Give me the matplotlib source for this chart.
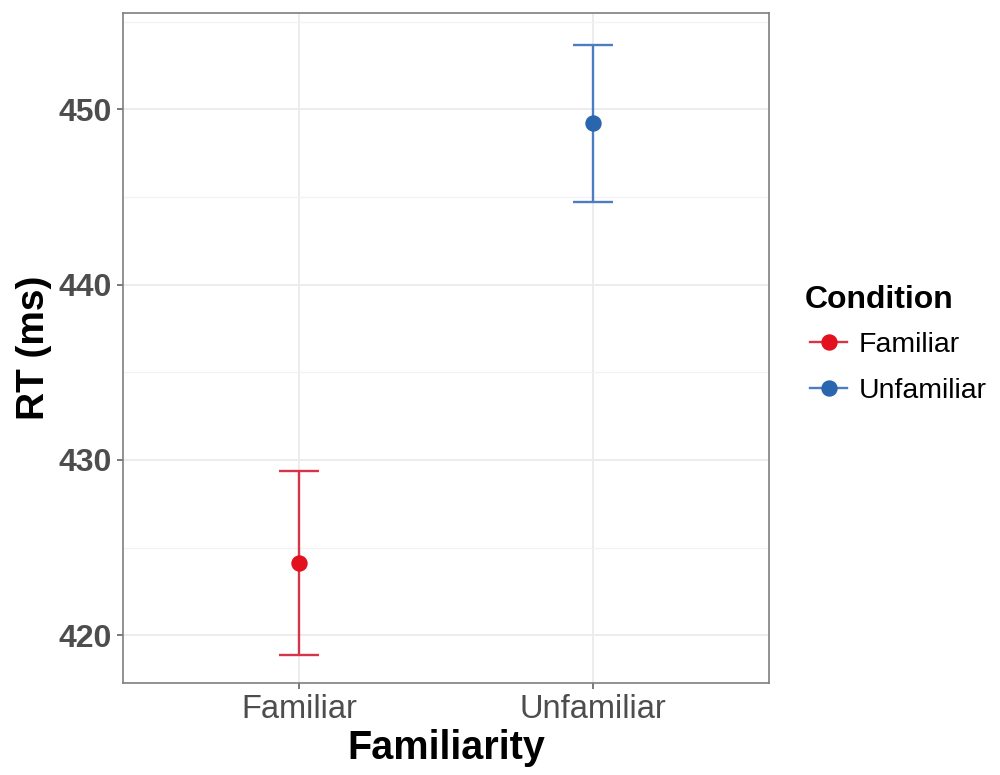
import matplotlib.pyplot as plt
from matplotlib.lines import Line2D

plt.rcParams['font.family'] = ['Liberation Sans', 'DejaVu Sans']

conditions = ['Familiar', 'Unfamiliar']
rt_mean = [424.1, 449.25]
rt_lower = [418.85, 444.7]
rt_upper = [429.35, 453.7]
colors = ['#E3101E', '#2A66AE']
line_colors = ['#D8334A', '#4A7EC0']

###############################################################################
fig = plt.figure(figsize=(10, 7.75), dpi=100)
ax = fig.add_axes([0.123, 0.1187, 0.646, 0.8645])

for i, cond in enumerate(conditions):
    ax.errorbar(i + 1, rt_mean[i],
                yerr=[[rt_mean[i] - rt_lower[i]], [rt_upper[i] - rt_mean[i]]],
                fmt='none', ecolor=line_colors[i], elinewidth=1.7,
                capsize=14.5, capthick=1.7, zorder=3)
    ax.plot(i + 1, rt_mean[i], 'o', color=colors[i], markersize=10.8, zorder=4)

ax.set_xlim(0.4, 2.6)
ax.set_ylim(417.27, 455.5)
ax.set_xticks([1, 2])
ax.set_xticklabels(conditions)
ax.set_yticks([420, 430, 440, 450])
ax.set_yticks([425, 435, 445, 455], minor=True)

ax.grid(True, which='major', color='#EBEBEB', linewidth=1.3, zorder=0)
ax.grid(True, which='minor', axis='y', color='#F2F2F2', linewidth=0.9, zorder=0)
ax.set_axisbelow(True)

for s in ax.spines.values():
    s.set_color('#7F7F7F')
    s.set_linewidth(1.2)

ax.tick_params(axis='both', which='major', length=4, width=1.1, color='#555555')
ax.tick_params(axis='y', which='minor', length=0)
ax.tick_params(axis='x', labelsize=23.5, labelcolor='#4D4D4D', pad=4)
ax.tick_params(axis='y', labelsize=23, labelcolor='#4D4D4D', pad=4)
for lbl in ax.get_yticklabels():
    lbl.set_fontweight('bold')

ax.set_xlabel('Familiarity', fontsize=28.5, fontweight='bold', labelpad=3)
ax.set_ylabel('RT (ms)', fontsize=28, fontweight='bold', labelpad=5)

# legend: title drawn as its own text so the spacing can follow the reference
fig.text(0.805, 1 - 300 / 775, 'Condition', fontsize=23, fontweight='bold',
         ha='left', va='center')
handles = [Line2D([0], [0], color=line_colors[i], marker='o', markersize=10.8,
                  markerfacecolor=colors[i], markeredgecolor=colors[i],
                  linewidth=1.7) for i in range(len(conditions))]
leg = fig.legend(handles, conditions, loc='upper left',
                 bbox_to_anchor=(0.784, 0.6051), frameon=False, fontsize=20.5,
                 handlelength=1.33, handletextpad=0.39, labelspacing=0.7)

plt.savefig('out.png', dpi=100)
